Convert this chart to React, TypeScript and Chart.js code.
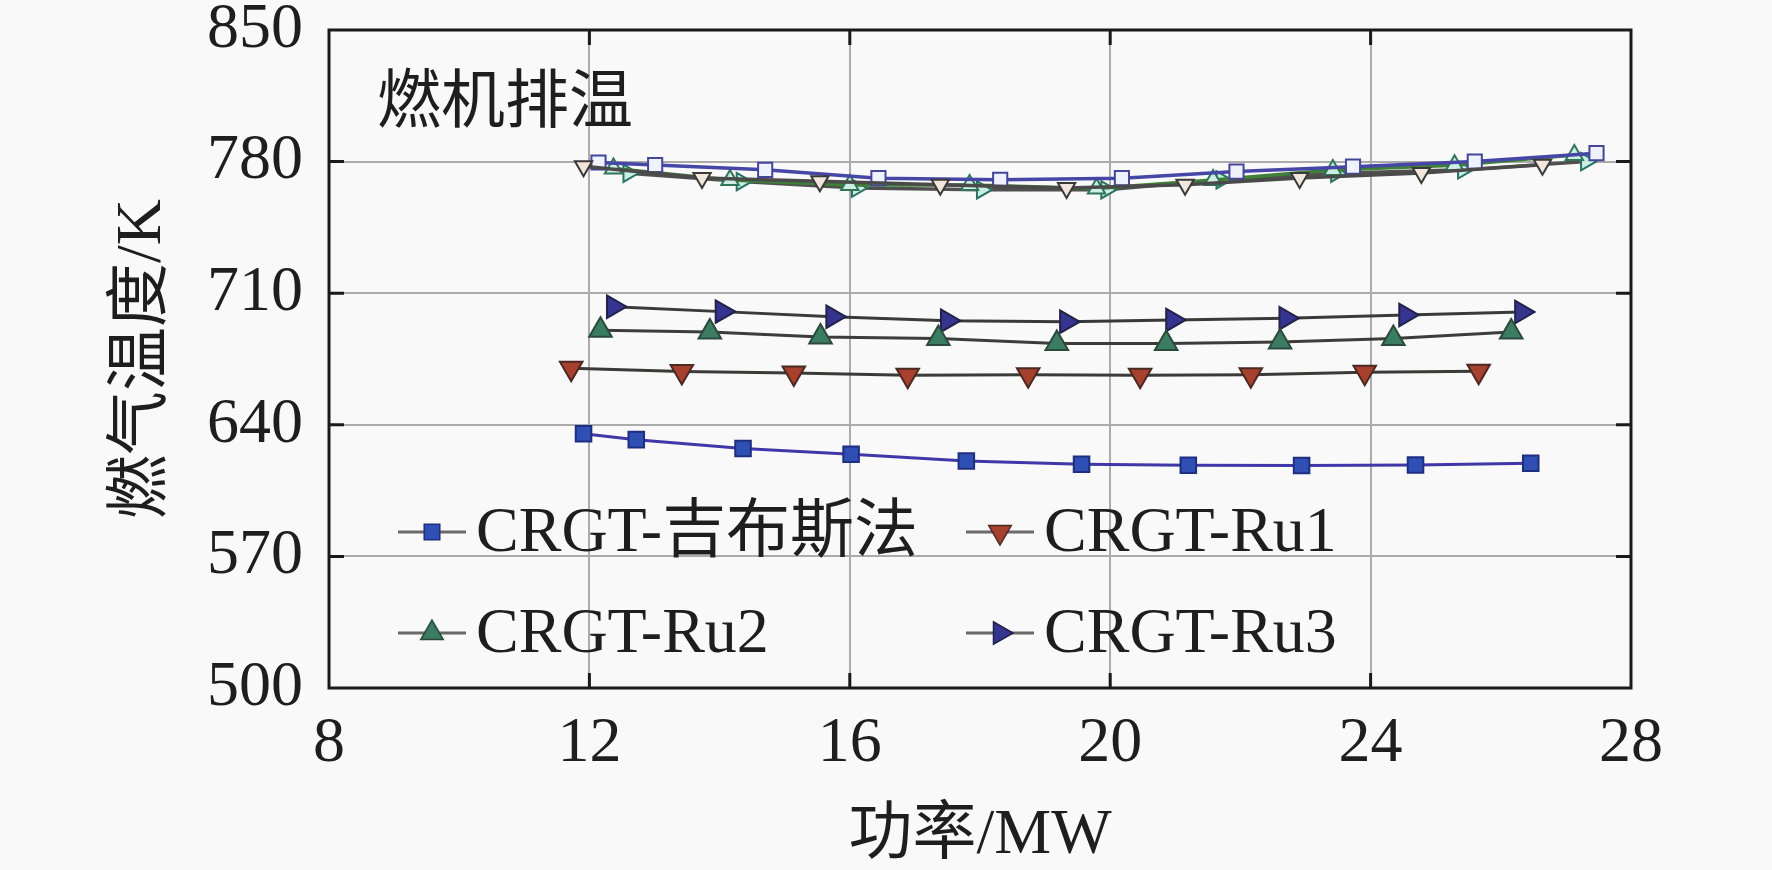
import React, { useEffect, useRef } from 'react';
import { Chart, registerables } from 'chart.js';

Chart.register(...registerables);

// 坐标轴刻度
const xTicks = [8, 12, 16, 20, 24, 28];
const yTicks = [500, 570, 640, 710, 780, 850];

// 下方四条曲线（图例中的系列）
const gibbsX = [11.91, 12.72, 14.36, 16.02, 17.79, 19.56, 21.2, 22.94, 24.69, 26.46];
const gibbsY = [635.2, 632.1, 627.4, 624.3, 620.7, 619.0, 618.5, 618.3, 618.6, 619.5];

const ru1X = [11.72, 13.42, 15.14, 16.89, 18.74, 20.46, 22.16, 23.91, 25.66];
const ru1Y = [670.1, 668.4, 667.5, 666.3, 666.6, 666.3, 666.6, 668.0, 668.5];

const ru2X = [12.17, 13.85, 15.55, 17.36, 19.18, 20.86, 22.61, 24.35, 26.16];
const ru2Y = [690.3, 689.4, 686.7, 685.9, 683.2, 683.2, 684.1, 685.9, 689.4];

const ru3X = [12.37, 14.04, 15.74, 17.5, 19.33, 20.96, 22.7, 24.54, 26.32];
const ru3Y = [702.8, 700.2, 697.5, 695.4, 694.8, 695.8, 696.7, 698.4, 700.0];

// 上方排温曲线组（空心标记，不在图例中）
const exSqX = [12.14, 13.01, 14.7, 16.44, 18.31, 20.18, 21.94, 23.73, 25.6, 27.47];
const exSqY = [779.5, 778.2, 775.6, 771.2, 770.3, 771.2, 774.7, 777.3, 780.0, 784.5];

const exDnX = [11.91, 13.73, 15.54, 17.39, 19.33, 21.15, 22.91, 24.78, 26.64];
const exDnY = [777.5, 771.3, 769.5, 767.7, 766.0, 767.7, 771.3, 773.9, 778.3];

const exUpX = [12.37, 14.16, 16.0, 17.84, 19.79, 21.58, 23.42, 25.29, 27.13];
const exUpY = [776.3, 770.2, 767.5, 767.5, 765.7, 770.2, 775.5, 778.1, 783.5];

const exRtX = [12.6, 14.34, 16.11, 18.03, 19.94, 21.71, 23.47, 25.42, 27.31];
const exRtY = [773.8, 769.4, 765.9, 765.0, 765.0, 770.3, 773.8, 775.6, 780.0];

const legendLabels = ['CRGT-吉布斯法', 'CRGT-Ru1', 'CRGT-Ru2', 'CRGT-Ru3'];

const SERIF = "'Liberation Serif', 'Times New Roman', 'Noto Sans CJK SC', serif";
const W = 1772;
const H = 870;

const toPoints = (xs: number[], ys: number[]) => xs.map((x, i) => ({ x, y: ys[i] }));

type Marker = { style: 'rect' | 'triangle'; rot: number; r: number; fill: string; stroke: string };

const legendMarkers: Marker[] = [
  { style: 'rect', rot: 0, r: 11, fill: '#2f4fb4', stroke: '#1f2f80' },
  { style: 'triangle', rot: 180, r: 13, fill: '#a8402e', stroke: '#4a2a22' },
  { style: 'triangle', rot: 0, r: 13, fill: '#3a7d62', stroke: '#2c4a3c' },
  { style: 'triangle', rot: 90, r: 13, fill: '#35358f', stroke: '#22224a' },
];

function drawMarker(ctx: CanvasRenderingContext2D, m: Marker, x: number, y: number) {
  ctx.save();
  ctx.fillStyle = m.fill;
  ctx.strokeStyle = m.stroke;
  ctx.lineWidth = 1.5;
  ctx.beginPath();
  if (m.style === 'rect') {
    const s = m.r * Math.SQRT1_2;
    ctx.rect(x - s, y - s, 2 * s, 2 * s);
  } else {
    let a = (m.rot * Math.PI) / 180;
    ctx.moveTo(x + Math.sin(a) * m.r, y - Math.cos(a) * m.r);
    a += (2 * Math.PI) / 3;
    ctx.lineTo(x + Math.sin(a) * m.r, y - Math.cos(a) * m.r);
    a += (2 * Math.PI) / 3;
    ctx.lineTo(x + Math.sin(a) * m.r, y - Math.cos(a) * m.r);
    ctx.closePath();
  }
  ctx.fill();
  ctx.stroke();
  ctx.restore();
}

// 边框与内向刻度
const framePlugin = {
  id: 'frame',
  beforeDatasetsDraw(chart: any) {
    const { ctx, chartArea: a, scales } = chart;
    ctx.save();
    ctx.strokeStyle = '#1a1a1a';
    ctx.lineWidth = 3;
    const len = 15;
    ctx.beginPath();
    xTicks.slice(1, -1).forEach((v) => {
      const px = scales.x.getPixelForValue(v);
      ctx.moveTo(px, a.bottom);
      ctx.lineTo(px, a.bottom - len);
      ctx.moveTo(px, a.top);
      ctx.lineTo(px, a.top + len);
    });
    yTicks.slice(1, -1).forEach((v) => {
      const py = scales.y.getPixelForValue(v);
      ctx.moveTo(a.left, py);
      ctx.lineTo(a.left + len, py);
      ctx.moveTo(a.right, py);
      ctx.lineTo(a.right - len, py);
    });
    ctx.stroke();
    ctx.strokeRect(a.left, a.top, a.right - a.left, a.bottom - a.top);
    ctx.restore();
  },
};

// 图内标题与两列图例
const annotatePlugin = {
  id: 'annotate',
  afterDraw(chart: any) {
    const { ctx } = chart;
    ctx.save();
    ctx.fillStyle = '#1e1e1e';
    ctx.font = `64px ${SERIF}`;
    ctx.textBaseline = 'middle';
    ctx.textAlign = 'left';
    ctx.fillText('燃机排温', 377, 105);

    const cols = [398, 966];
    const rows = [532, 633];
    legendLabels.forEach((label, i) => {
      const x0 = cols[i % 2];
      const y0 = rows[Math.floor(i / 2)];
      ctx.strokeStyle = '#6a6a6a';
      ctx.lineWidth = 3;
      ctx.beginPath();
      ctx.moveTo(x0, y0);
      ctx.lineTo(x0 + 68, y0);
      ctx.stroke();
      drawMarker(ctx, legendMarkers[i], x0 + 34, y0);
      ctx.fillStyle = '#1e1e1e';
      ctx.fillText(label, x0 + 78, y0 + 2);
    });
    ctx.restore();
  },
};

const tickFont = { family: SERIF, size: 64, lineHeight: 1 };

const App: React.FC = () => {
  const canvasRef = useRef<HTMLCanvasElement>(null);

  useEffect(() => {
    if (!canvasRef.current) return;
    const ctx = canvasRef.current.getContext('2d');
    if (!ctx) return;

    const line = (
      xs: number[],
      ys: number[],
      color: string,
      m: Marker,
      width = 3
    ) => ({
      data: toPoints(xs, ys),
      showLine: true,
      borderColor: color,
      borderWidth: width,
      pointStyle: m.style,
      pointRotation: m.rot,
      pointRadius: m.r,
      pointBackgroundColor: m.fill,
      pointBorderColor: m.stroke,
      pointBorderWidth: 2,
      tension: 0,
    });

    const chart = new Chart(ctx, {
      type: 'scatter',
      data: {
        datasets: [
          line(exDnX, exDnY, '#4a4a4a', { style: 'triangle', rot: 180, r: 10, fill: '#f0e6dc', stroke: '#3a3a3a' }, 3.5),
          line(exSqX, exSqY, '#4646a6', { style: 'rect', rot: 0, r: 10, fill: '#eef2ff', stroke: '#45459a' }, 3.5),
          line(exUpX, exUpY, '#3f7f38', { style: 'triangle', rot: 0, r: 10, fill: '#cdeee2', stroke: '#2f7558' }, 3.5),
          line(exRtX, exRtY, '#505050', { style: 'triangle', rot: 90, r: 10, fill: '#c8eee6', stroke: '#2a7262' }, 3.5),
          line(gibbsX, gibbsY, '#4038a8', legendMarkers[0]),
          line(ru1X, ru1Y, '#3e3a3a', legendMarkers[1]),
          line(ru2X, ru2Y, '#3c3c3c', legendMarkers[2]),
          line(ru3X, ru3Y, '#3a3a3a', legendMarkers[3]),
        ] as any,
      },
      options: {
        animation: false,
        responsive: false,
        devicePixelRatio: 1,
        layout: { padding: { left: 0, top: 30, right: 141, bottom: 0 } },
        plugins: { legend: { display: false }, tooltip: { enabled: false } },
        scales: {
          x: {
            type: 'linear',
            min: 8,
            max: 28,
            afterBuildTicks: (s: any) => {
              s.ticks = xTicks.map((v) => ({ value: v }));
            },
            afterFit: (s: any) => {
              s.height = 182;
              s.paddingLeft = 0;
              s.paddingRight = 0;
            },
            grid: { color: '#ababab', lineWidth: 2, drawTicks: false },
            border: { display: false },
            ticks: { padding: 24, font: tickFont, color: '#1e1e1e', maxRotation: 0, autoSkip: false },
            title: {
              display: true,
              text: '功率/MW',
              font: tickFont,
              color: '#1e1e1e',
              padding: { top: 0, bottom: 2 },
            },
          },
          y: {
            type: 'linear',
            min: 500,
            max: 850,
            afterBuildTicks: (s: any) => {
              s.ticks = yTicks.map((v) => ({ value: v }));
            },
            afterFit: (s: any) => {
              s.width = 329;
              s.paddingTop = 0;
              s.paddingBottom = 0;
            },
            grid: { color: '#ababab', lineWidth: 2, drawTicks: false },
            border: { display: false },
            ticks: { padding: 26, font: tickFont, color: '#1e1e1e', autoSkip: false },
            title: {
              display: true,
              text: '燃气温度/K',
              font: tickFont,
              color: '#1e1e1e',
              padding: { top: 111, bottom: 0 },
            },
          },
        },
      },
      plugins: [framePlugin, annotatePlugin],
    });

    return () => {
      chart.destroy();
    };
  }, []);

  return (
    <div style={{ position: 'fixed', left: 0, top: 0, width: W, height: H, background: '#f9f9f9' }}>
      <canvas ref={canvasRef} width={W} height={H} style={{ width: W, height: H, display: 'block' }} />
    </div>
  );
};

export default App;
